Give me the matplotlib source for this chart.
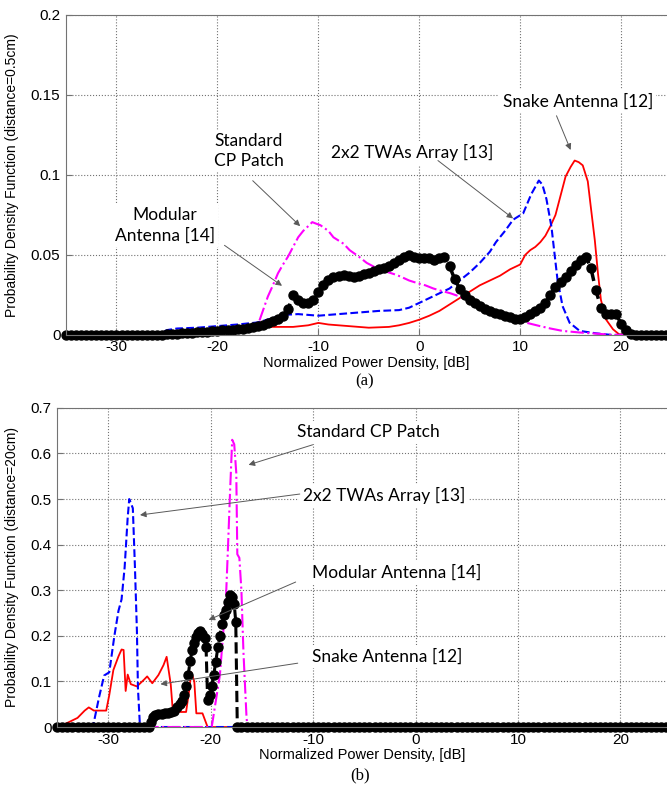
import numpy as np
import matplotlib
matplotlib.use("Agg")
import matplotlib.pyplot as plt

plt.rcParams['font.family'] = ['Liberation Sans', 'DejaVu Sans']
plt.rcParams['axes.unicode_minus'] = False

# ---------------- (a) distance = 0.5 cm ----------------
snake_a_x = [-35, -22, -21.5, -20, -17, -15, -12.5, -11, -10, -9, -8, -6, -5, -3, -2, -1, 0, 1, 2, 3,
             4, 5, 6, 7, 8, 9, 10, 10.5, 11, 11.5, 12, 12.5, 13, 13.5, 14, 14.5, 15, 15.4, 15.8, 16.2,
             16.7, 17.0, 17.4, 17.7, 18.0, 18.5, 19.2, 19.8, 20.5, 35]
snake_a_y = [0, 0, 0.003, 0.004, 0.005, 0.005, 0.005, 0.006, 0.0075, 0.0065, 0.006, 0.005, 0.0045, 0.005,
             0.006, 0.0075, 0.0095, 0.012, 0.015, 0.019, 0.023, 0.027, 0.031, 0.034, 0.037, 0.041, 0.044,
             0.05, 0.053, 0.055, 0.058, 0.062, 0.068, 0.075, 0.087, 0.099, 0.105, 0.109, 0.108, 0.106,
             0.096, 0.080, 0.059, 0.039, 0.022, 0.0097, 0.0035, 0.0004, 0, 0]

twa_a_x = [-35, -26, -25, -24, -22, -20, -18, -16, -14.5, -13.5, -12, -10, -8, -6, -4, -2, -1, 0, 1, 2,
           3, 4, 5, 6, 7, 7.6, 8.5, 9.3, 10.3, 11.1, 11.85, 12.2, 12.6, 13.1, 13.4, 13.7, 14.2, 14.9,
           15.9, 17.5, 19, 35]
twa_a_y = [0, 0, 0.003, 0.004, 0.0045, 0.0055, 0.0065, 0.0078, 0.0105, 0.0125, 0.013, 0.012, 0.013,
           0.014, 0.015, 0.0155, 0.017, 0.020, 0.023, 0.026, 0.029, 0.034, 0.039, 0.045, 0.052, 0.058,
           0.065, 0.072, 0.076, 0.088, 0.0965, 0.094, 0.085, 0.0676, 0.051, 0.0345, 0.018, 0.0076,
           0.0025, 0.001, 0, 0]

patch_a_x = [-35, -22, -20, -18, -17, -16.3, -16, -15.5, -15, -14.5, -14, -13.5, -13, -12.5, -12, -11.5,
             -11, -10.6, -10.2, -9.8, -9, -8.5, -7.5, -6.9, -6, -5.2, -4.3, -3.5, -2.5, -1.9, -1, -0.2,
             0.6, 1.4, 2.2, 3.1, 4, 4.7, 5.5, 6.4, 7.6, 8.8, 9.9, 11, 11.9, 13, 14.2, 15.9, 17.5, 19.2, 35]
patch_a_y = [0, 0, 0.001, 0.002, 0.003, 0.004, 0.006, 0.015, 0.024, 0.031, 0.0385, 0.044, 0.049, 0.055,
             0.061, 0.065, 0.068, 0.0705, 0.0695, 0.0686, 0.065, 0.061, 0.057, 0.053, 0.049, 0.045, 0.042,
             0.040, 0.038, 0.0366, 0.034, 0.0324, 0.031, 0.029, 0.0275, 0.026, 0.024, 0.022, 0.020, 0.018,
             0.015, 0.012, 0.0087, 0.007, 0.0056, 0.004, 0.0025, 0.0015, 0.0008, 0, 0]

# modular antenna, sampled every 0.5 dB from -35 to 24.5
modular_a_x = np.arange(-35, 25, 0.5)
modular_a_y = [0] * 20 + [
    0.0003, 0.0005, 0.0007, 0.001, 0.0012, 0.0014, 0.0016, 0.0018, 0.002, 0.0022,
    0.0025, 0.0028, 0.003, 0.0033, 0.0036, 0.004, 0.0045, 0.005, 0.0058, 0.0065,
    0.0075, 0.0088, 0.010, 0.012, 0.016, 0.025, 0.022, 0.020, 0.020, 0.022,
    0.027, 0.031, 0.0345, 0.036, 0.037, 0.0375, 0.037, 0.0365, 0.037, 0.038,
    0.039, 0.040, 0.041, 0.042, 0.043, 0.045, 0.047, 0.049, 0.050, 0.049,
    0.048, 0.048, 0.048, 0.047, 0.048, 0.049, 0.043, 0.035, 0.029, 0.025,
    0.022, 0.020, 0.018, 0.016, 0.015, 0.014, 0.013, 0.012, 0.011, 0.010,
    0.0097, 0.011, 0.013, 0.015, 0.017, 0.020, 0.025, 0.030, 0.033, 0.036,
    0.040, 0.044, 0.047, 0.049, 0.042, 0.028, 0.017, 0.013, 0.013, 0.013,
    0.007, 0.003, 0.0008] + [0] * 7

# ---------------- (b) distance = 20 cm ----------------
snake_b_x = [-35, -34.9, -34, -33, -32.3, -31.9, -31.4, -30.2, -29.9, -29.5, -29.0, -28.7, -28.5, -28.3,
             -28.1, -27.8, -27.2, -26.5, -26.2, -25.7, -25.1, -24.6, -24.3, -23.9, -23.7, -23.2, -22.4,
             -22.1, -21.9, -21.6, -21.4, -20.8, -20.3, 35]
snake_b_y = [0, 0, 0.009, 0.02, 0.036, 0.043, 0.036, 0.036, 0.07, 0.125, 0.155, 0.17, 0.169, 0.079,
             0.115, 0.094, 0.089, 0.104, 0.111, 0.096, 0.114, 0.136, 0.154, 0.094, 0.036, 0.033, 0.033,
             0.08, 0.12, 0.10, 0.03, 0.03, 0, 0]

twa_b_x = [-35, -31.5, -30.9, -30.4, -29.9, -29.4, -29.0, -28.7, -28.4, -28.1, -27.95, -27.6, -27.4,
           -27.2, -27.1, -26.9, 35]
twa_b_y = [0, 0, 0.065, 0.113, 0.12, 0.20, 0.255, 0.28, 0.35, 0.46, 0.50, 0.48, 0.355, 0.21, 0.085, 0, 0]

patch_b_x = [-35, -19.9, -19.8, -19.5, -19.1, -18.8, -18.5, -18.3, -18.1, -17.9, -17.7, -17.5, -17.4,
             -17.2, -17.0, -16.8, -16.5, -16.4, 35]
patch_b_y = [0, 0, 0.014, 0.057, 0.114, 0.20, 0.286, 0.40, 0.52, 0.63, 0.62, 0.557, 0.379, 0.371, 0.30,
             0.164, 0.021, 0, 0]

modular_b_mid_x = [-26.0, -25.8, -25.6, -25.4, -25.1, -24.8, -24.5, -24.2, -23.9, -23.6, -23.3, -23.0,
                   -22.8, -22.6, -22.4, -22.2, -22.0, -21.8, -21.6, -21.4, -21.2, -21.0, -20.8, -20.6,
                   -20.45, -20.3, -20.1, -19.9, -19.7, -19.5, -19.3, -19.1, -18.9, -18.7, -18.5, -18.3,
                   -18.1, -17.9, -17.7, -17.55, -17.4]
modular_b_mid_y = [0.0, 0.011, 0.022, 0.026, 0.028, 0.029, 0.03, 0.031, 0.032, 0.036, 0.043, 0.05,
                   0.057, 0.07, 0.09, 0.114, 0.145, 0.17, 0.185, 0.198, 0.207, 0.211, 0.205, 0.196,
                   0.175, 0.06, 0.071, 0.09, 0.115, 0.143, 0.175, 0.20, 0.225, 0.245, 0.257, 0.275,
                   0.29, 0.285, 0.27, 0.23, 0.0]
modular_b_x = np.concatenate([np.arange(-35, -26, 0.5), modular_b_mid_x, np.arange(-17, 25, 0.5)])
modular_b_y = [0] * 18 + modular_b_mid_y + [0] * 84

fig = plt.figure(figsize=(6.67, 7.88), dpi=100)
ax1 = fig.add_axes([0.099, 0.575, 0.901, 0.406])
ax2 = fig.add_axes([0.0855, 0.0774, 0.9145, 0.405])

RED, BLUE, MAG = '#ff0000', '#0000ff', '#ff00ff'


def style_axes(ax, ymax, yticks, ylabel, labx):
    ax.set_xlim(-35, 24.55)
    ax.set_ylim(0, ymax)
    ax.set_xticks([-30, -20, -10, 0, 10, 20])
    ax.set_yticks(yticks)
    ax.set_yticklabels(['0' if t == 0 else ('%g' % t) for t in yticks])
    ax.grid(True, linestyle=':', color='0.45', linewidth=0.8)
    ax.set_axisbelow(True)
    ax.spines['right'].set_visible(False)
    for s in ['left', 'top', 'bottom']:
        ax.spines[s].set_color('0.45')
        ax.spines[s].set_linewidth(0.8)
    ax.tick_params(direction='in', length=4, color='0.45', labelsize=11, pad=4)
    ax.set_xlabel('Normalized Power Density, [dB]', fontsize=10.5, labelpad=1)
    ax.set_ylabel(ylabel, fontsize=10)
    ax.yaxis.set_label_coords(labx, 0.5)


def note(ax, text, pos, start, tip):
    ax.text(pos[0], pos[1], text, ha='center', va='center', fontsize=12.5,
            family=['Lato', 'DejaVu Sans'], linespacing=1.3,
            bbox=dict(boxstyle='square,pad=0.2', fc='white', ec='none'), zorder=4)
    ax.annotate('', xy=tip, xytext=start,
                arrowprops=dict(arrowstyle='-|>', color='0.35', lw=0.7, mutation_scale=9,
                                shrinkA=0, shrinkB=0), zorder=5)


# panel (a)
ax1.plot(snake_a_x, snake_a_y, '-', color=RED, lw=1.3)
ax1.plot(twa_a_x, twa_a_y, '--', color=BLUE, lw=1.5)
ax1.plot(patch_a_x, patch_a_y, '-.', color=MAG, lw=1.5)
ax1.plot(modular_a_x, modular_a_y, '--o', color='k', lw=2.5, markersize=6.5, clip_on=False)
style_axes(ax1, 0.2, [0, 0.05, 0.1, 0.15, 0.2], 'Probability Density Function (distance=0.5cm)', -0.078)

note(ax1, 'Snake Antenna [12]', (15.7, 0.146), (13.6, 0.137), (15.0, 0.1156))
note(ax1, '2x2 TWAs Array [13]', (-0.7, 0.114), (1.85, 0.109), (9.3, 0.0728))
note(ax1, 'Standard\nCP Patch', (-16.9, 0.115), (-16.5, 0.0964), (-11.8, 0.068))
note(ax1, 'Modular\nAntenna [14]', (-25.2, 0.0685), (-19.3, 0.056), (-13.6, 0.0307))

# panel (b)
ax2.plot(snake_b_x, snake_b_y, '-', color=RED, lw=1.3)
ax2.plot(twa_b_x, twa_b_y, '--', color=BLUE, lw=1.5)
ax2.plot(patch_b_x, patch_b_y, '-.', color=MAG, lw=1.5)
ax2.plot(modular_b_x, modular_b_y, '--o', color='k', lw=2.2, markersize=6.5, clip_on=False)
style_axes(ax2, 0.7, [0, 0.1, 0.2, 0.3, 0.4, 0.5, 0.6, 0.7],
           'Probability Density Function (distance=20cm)', -0.062)

note(ax2, 'Standard CP Patch', (-4.6, 0.647), (-10.05, 0.619), (-16.3, 0.575))
note(ax2, '2x2 TWAs Array [13]', (-3.1, 0.507), (-11.3, 0.511), (-26.9, 0.465))
note(ax2, 'Modular Antenna [14]', (-1.8, 0.338), (-11.7, 0.318), (-20.2, 0.235))
note(ax2, 'Snake Antenna [12]', (-2.8, 0.154), (-11.5, 0.140), (-24.9, 0.094))

fig.text(0.547, 1 - 381 / 788, '(a)', ha='center', va='center', fontsize=12, family='Liberation Serif')
fig.text(0.540, 1 - 775 / 788, '(b)', ha='center', va='center', fontsize=12, family='Liberation Serif')

fig.savefig('out.png', dpi=100)
